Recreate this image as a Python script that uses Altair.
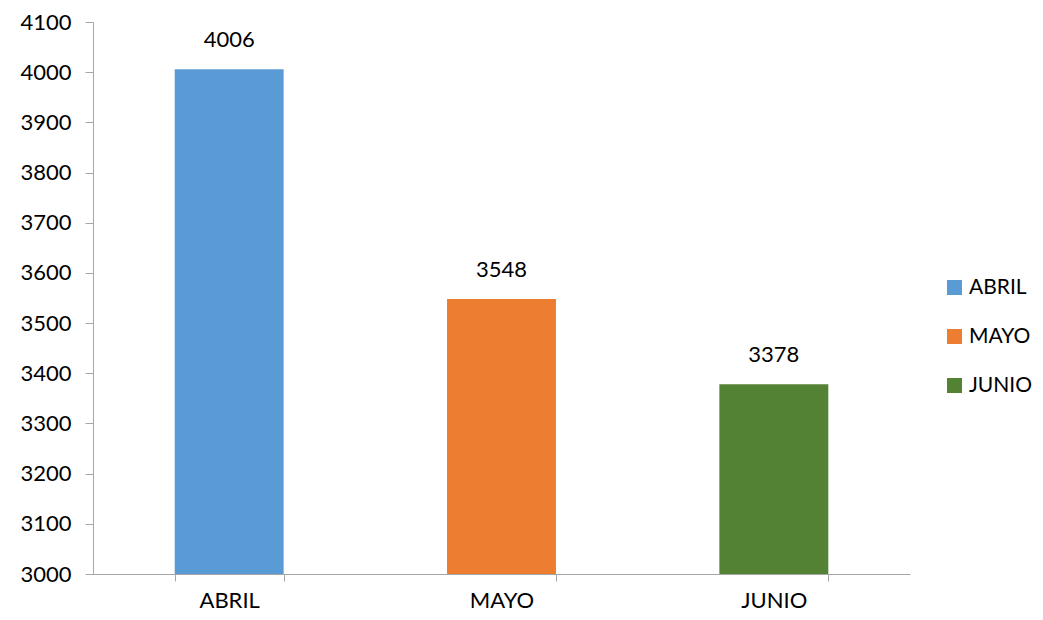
import altair as alt
import pandas as pd

months = ["ABRIL", "MAYO", "JUNIO"]
values = [4006, 3548, 3378]
colors = ["#5B9BD5", "#ED7D31", "#548235"]
y_ticks = [3000, 3100, 3200, 3300, 3400, 3500, 3600, 3700, 3800, 3900, 4000, 4100]

df = pd.DataFrame({"mes": months, "valor": values})

FONT = "Lato"
FS = 22

x = alt.X("mes:N", sort=months, title=None,
          scale=alt.Scale(paddingInner=0.6, paddingOuter=0.3),
          axis=alt.Axis(labelAngle=0, labelFontSize=FS, labelFont=FONT, labelColor="#000000",
                        labelPadding=9, tickBand="extent", tickSize=7,
                        domainColor="#A6A6A6", tickColor="#A6A6A6", grid=False))
y = alt.Y("valor:Q", title=None,
          scale=alt.Scale(domain=[3000, 4100], nice=False, zero=False),
          axis=alt.Axis(values=y_ticks, labelFontSize=FS, labelFont=FONT, labelColor="#000000",
                        labelPadding=14, tickSize=8, domainColor="#A6A6A6", tickColor="#A6A6A6",
                        grid=False, format="d"))

bars = alt.Chart(df).mark_bar(clip=True).encode(
    x=x, y=y,
    color=alt.Color("mes:N", sort=months, title=None,
                    scale=alt.Scale(domain=months, range=colors),
                    legend=alt.Legend(orient="none", legendX=851, legendY=255,
                                      symbolType="square", symbolSize=225,
                                      symbolStrokeWidth=0, labelFontSize=21, labelFont=FONT,
                                      labelColor="#000000", rowPadding=27, labelOffset=4)),
)

labels = alt.Chart(df).mark_text(dy=-17, fontSize=FS, font=FONT, color="#000000",
                                 baseline="bottom").encode(
    x=alt.X("mes:N", sort=months), y="valor:Q", text=alt.Text("valor:Q", format="d"))

chart = (bars + labels).properties(
    width=817, height=552,
    background="#FFFFFF",
    autosize=alt.AutoSizeParams(type="none"),
    padding={"left": 85, "top": 14, "right": 125, "bottom": 38},
).configure_view(stroke=None)

chart.save("out.html", embed_options={"renderer": "svg", "actions": False})
